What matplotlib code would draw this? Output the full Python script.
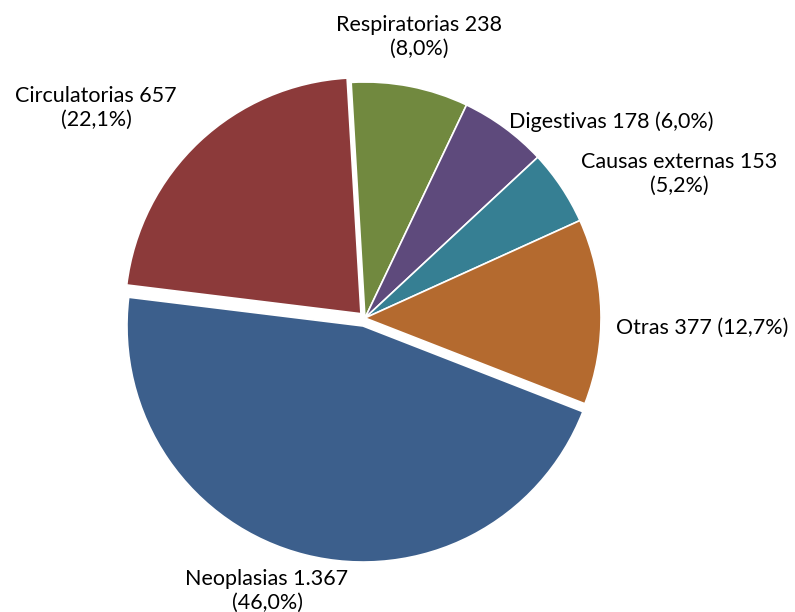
import matplotlib
matplotlib.use("Agg")
import matplotlib.pyplot as plt
import numpy as np

categories = ["Neoplasias", "Circulatorias", "Respiratorias", "Digestivas", "Causas externas", "Otras"]
values = [1367, 657, 238, 178, 153, 377]
value_labels = ["1.367", "657", "238", "178", "153", "377"]
pct_labels = ["46,0%", "22,1%", "8,0%", "6,0%", "5,2%", "12,7%"]

colors = ["#3C5F8C", "#8C3A3A", "#71893F", "#5E4A7C", "#367F93", "#B46A2F"]
explode = [0.035, 0.025, 0, 0, 0, 0]

# label layout (data coords, pie radius = 1)
label_pos = [(-0.415, -1.155), (-1.14, 0.89), (0.23, 1.19), (0.61, 0.83), (1.33, 0.61), (1.065, -0.042)]
label_two_lines = [True, True, True, False, True, False]
label_ha = ["center", "center", "center", "left", "center", "left"]

plt.rcParams['font.family'] = ['Lato', 'DejaVu Sans']

fig = plt.figure(figsize=(7.95, 6.12), dpi=100)
ax = fig.add_axes([0, 0, 1, 1])

start = -21.3
wedges, _ = ax.pie(values, colors=colors, explode=explode, startangle=start,
                   counterclock=False, radius=1,
                   wedgeprops=dict(edgecolor="white", linewidth=1.2))

for i, (cat, v, p) in enumerate(zip(categories, value_labels, pct_labels)):
    sep = "\n" if label_two_lines[i] else " "
    txt = f"{cat} {v}{sep}({p})"
    ax.text(label_pos[i][0], label_pos[i][1], txt, ha=label_ha[i], va="center",
            fontsize=15.5, color="black", multialignment="center", linespacing=1.25)

cx, cy, s = 365, 318, 236
W, H = 795, 612
ax.set_aspect('auto')
ax.set_xlim(-cx / s, (W - cx) / s)
ax.set_ylim(-(H - cy) / s, cy / s)
ax.axis('off')

fig.savefig("out.png", dpi=100, facecolor="white")
